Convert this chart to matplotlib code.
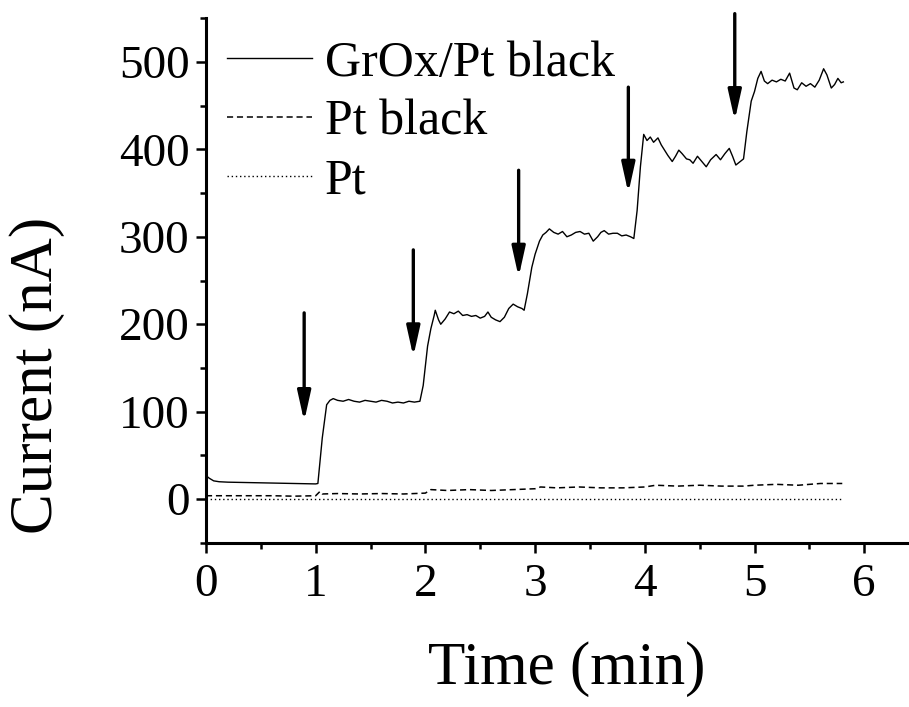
import matplotlib
matplotlib.use("Agg")
import matplotlib.pyplot as plt
from matplotlib.ticker import MultipleLocator

plt.rcParams["font.family"] = ["Liberation Serif", "DejaVu Serif"]

# GrOx/Pt black trace
t_grox = [0.00, 0.03, 0.07, 0.12, 0.20, 0.40, 0.60, 0.80, 1.00, 1.02, 1.06, 1.10,
          1.13, 1.16, 1.20, 1.25, 1.30, 1.35, 1.40, 1.45, 1.50, 1.55, 1.60, 1.65,
          1.70, 1.75, 1.80, 1.85, 1.90, 1.95, 1.98, 2.02, 2.05, 2.08, 2.09, 2.12,
          2.14, 2.18, 2.22, 2.26, 2.30, 2.34, 2.38, 2.42, 2.46, 2.50, 2.54, 2.57,
          2.60, 2.64, 2.68, 2.72, 2.76, 2.80, 2.84, 2.88, 2.90, 2.93, 2.97, 3.00,
          3.04, 3.07, 3.10, 3.13, 3.17, 3.21, 3.25, 3.29, 3.33, 3.37, 3.41, 3.45,
          3.49, 3.53, 3.57, 3.60, 3.63, 3.67, 3.71, 3.75, 3.79, 3.83, 3.87, 3.90,
          3.93, 3.96, 3.99, 4.02, 4.05, 4.08, 4.12, 4.15, 4.18, 4.21, 4.25, 4.28,
          4.31, 4.34, 4.38, 4.41, 4.44, 4.48, 4.52, 4.56, 4.60, 4.65, 4.69, 4.73,
          4.77, 4.80, 4.83, 4.86, 4.90, 4.93, 4.97, 5.00, 5.03, 5.06, 5.09, 5.12,
          5.16, 5.20, 5.24, 5.28, 5.32, 5.36, 5.39, 5.43, 5.47, 5.51, 5.55, 5.59,
          5.63, 5.66, 5.70, 5.73, 5.76, 5.79, 5.81]
i_grox = [27, 24, 21, 20, 19.5, 19, 18.5, 18, 17.5, 18, 70, 108,
          113, 115, 113, 112, 114, 112, 111, 113, 112, 111, 113, 112,
          110, 111, 110, 112, 111, 112, 130, 175, 195, 210, 216, 205,
          200, 206, 214, 212, 215, 210, 211, 209, 210, 207, 209, 214,
          208, 205, 203, 208, 218, 223, 220, 218, 216, 235, 265, 280,
          295, 302, 305, 309, 305, 303, 306, 300, 302, 305, 306, 303,
          304, 295, 300, 305, 307, 303, 304, 304, 301, 302, 300, 298,
          330, 380, 417, 410, 414, 408, 413, 405, 399, 393, 386, 392,
          399, 395, 389, 388, 384, 392, 386, 380, 388, 394, 388, 395,
          401, 392, 382, 385, 389, 420, 455, 466, 481, 489, 478, 475,
          479, 477, 480, 478, 487, 470, 468, 476, 472, 475, 471, 479,
          492, 485, 470, 474, 481, 476, 477]

# Pt black trace
t_ptb = [0.00, 0.20, 0.40, 0.60, 0.80, 1.00, 1.04, 1.06, 1.20, 1.40, 1.60, 1.80,
         2.00, 2.05, 2.20, 2.40, 2.60, 2.80, 3.00, 3.05, 3.20, 3.40, 3.60, 3.80,
         4.00, 4.10, 4.30, 4.50, 4.70, 4.90, 5.00, 5.20, 5.40, 5.60, 5.80]
i_ptb = [4, 4, 4, 4, 3.5, 4, 9, 6, 6.5, 6, 6.5, 6,
         7, 11, 10, 11, 10, 11, 12, 14, 13, 14, 13, 13,
         14, 16, 15, 16, 15, 15, 16, 17, 16, 18, 18]

# Pt trace
t_pt = [0.00, 1.00, 2.00, 3.00, 4.00, 5.00, 5.80]
i_pt = [0.5, 0.5, 0.5, 0.5, 0.5, 0.5, 0.5]

# injection arrows: x position, tail, head (nA)
arrow_t = [0.895, 1.89, 2.85, 3.85, 4.82]
arrow_tail = [213, 285, 376, 471, 555]
arrow_head = [89, 163, 254, 350, 433]

fig = plt.figure(figsize=(9.09, 7.07), dpi=100)
ax = fig.add_axes([0.2266, 0.232, 0.7724, 0.7425])

ax.plot(t_grox, i_grox, color="black", lw=1.0, ls="-", label="GrOx/Pt black")
ax.plot(t_ptb, i_ptb, color="black", lw=1.1, ls=(0, (4, 2.5)), label="Pt black")
ax.plot(t_pt, i_pt, color="black", lw=1.0, ls=(0, (1, 2)), label="Pt")

for x, y0, y1 in zip(arrow_t, arrow_tail, arrow_head):
    ax.annotate("", xy=(x, y1), xytext=(x, y0), annotation_clip=False,
                arrowprops=dict(arrowstyle="-|>,head_length=0.9,head_width=0.2",
                                mutation_scale=20, lw=2.4, color="black",
                                shrinkA=0, shrinkB=0))

ax.set_xlim(0, 6.4)
ax.set_ylim(-50, 550)
ax.xaxis.set_major_locator(MultipleLocator(1))
ax.xaxis.set_minor_locator(MultipleLocator(0.5))
ax.yaxis.set_major_locator(MultipleLocator(100))
ax.yaxis.set_minor_locator(MultipleLocator(50))

for s in ["top", "right"]:
    ax.spines[s].set_visible(False)
for s in ["left", "bottom"]:
    ax.spines[s].set_linewidth(2.2)

ax.tick_params(which="major", direction="out", length=7, width=1.8, labelsize=34)
ax.tick_params(which="minor", direction="out", length=4, width=1.8)
ax.tick_params(axis="x", which="major", pad=8)
ax.tick_params(axis="y", which="major", pad=5)

ax.set_xlabel("Time (min)", fontsize=44)
ax.set_ylabel("Current (nA)", fontsize=44)
ax.xaxis.label.set_va("center")
ax.yaxis.label.set_va("center")
ax.xaxis.set_label_coords(0.514, -0.24)
ax.yaxis.set_label_coords(-0.24, 0.32)

ax.legend(loc="upper left", bbox_to_anchor=(0.03, 0.958), frameon=False,
          fontsize=36, handlelength=1.7, handletextpad=0.25, labelspacing=0.25,
          borderpad=0, borderaxespad=0)

fig.savefig("out.png", dpi=100)
